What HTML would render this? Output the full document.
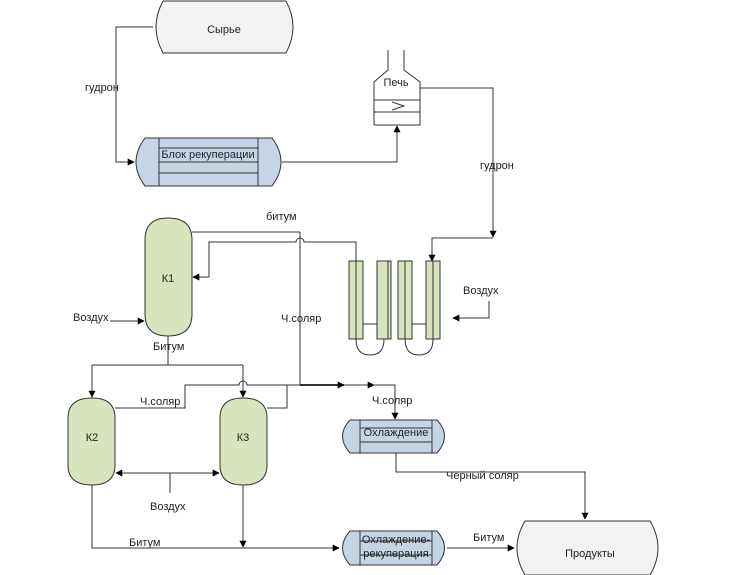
<!DOCTYPE html>
<html><head><meta charset="utf-8"><style>body{margin:0;background:#fff}svg{display:block}text{font-family:"Liberation Sans",sans-serif;font-size:11px;fill:#222}</style></head><body>
<svg width="730" height="575" viewBox="0 0 730 575">
<defs><marker id="a" viewBox="0 0 10 10" refX="9" refY="5" markerWidth="7" markerHeight="7" markerUnits="userSpaceOnUse" orient="auto"><path d="M0,0L10,5L0,10z" fill="#000"/></marker></defs>
<g fill="none" stroke="#333" stroke-width="1">
<path d="M163,1 H286 Q300,27 286,53 H163 Q149,27 163,1Z" fill="#f2f2f2"/>
<path d="M145,138 H272 Q290,162 272,186 H145 Q127,162 145,138Z" fill="#c6d5e6"/>
<path d="M159,138V186M258,138V186M159,148H258M159,162H258M159,173H258"/>
<path d="M388,50V70L374,82V125H420V82L404,70V50"/>
<path d="M374,100H420M374,112H420M392,102L404,106L392,110"/>
<path d="M153,27H116V162H134" marker-end="url(#a)"/>
<path d="M282,162H397V126" marker-end="url(#a)"/>
<path d="M420,88H493V237" marker-end="url(#a)"/>
<path d="M493,238H432V261" marker-end="url(#a)"/>
<g fill="#d7e4bd"><rect x="349" y="261" width="14" height="78"/><rect x="377" y="261" width="14" height="78"/><rect x="398" y="261" width="14" height="78"/><rect x="426" y="261" width="14" height="78"/></g>
<path d="M356,261V339M388,261V339M405,261V339M433,261V339"/>
<path d="M363,324H377M412,324H426"/>
<path d="M356,339Q356,355 370,355Q384,355 384,339M405,339Q405,355 419,355Q433,355 433,339"/>
<path d="M489,301V318H453" marker-end="url(#a)"/>
<path d="M145,240Q145,218 168,218Q192,218 192,240V314Q192,336 168,336Q145,336 145,314Z" fill="#d7e4bd"/>
<path d="M192,232H300"/>
<path d="M356,261V242H304A4,4 0 0 0 296,242H209V277H193" marker-end="url(#a)"/>
<path d="M300,232V385"/>
<path d="M110,321H144" marker-end="url(#a)"/>
<path d="M168,336V365M92,365H243"/>
<path d="M92,365V397" marker-end="url(#a)"/>
<path d="M243,365V397" marker-end="url(#a)"/>
<path d="M68,418Q68,398 92,398Q115,398 115,418V465Q115,485 92,485Q68,485 68,465Z" fill="#d7e4bd"/>
<path d="M220,418Q220,398 243,398Q267,398 267,418V465Q267,485 243,485Q220,485 220,465Z" fill="#d7e4bd"/>
<path d="M115,408H185V385H239A4,4 0 0 1 247,385H300"/>
<path d="M267,408H287V385"/>
<path d="M300,385H344" stroke-width="2" marker-end="url(#a)"/>
<path d="M343,385H374" marker-end="url(#a)"/>
<path d="M373,385H395V419" marker-end="url(#a)"/>
<path d="M170,473H116" marker-end="url(#a)"/>
<path d="M170,473H219" marker-end="url(#a)"/>
<path d="M170,473V493"/>
<path d="M92,485V548H339" marker-end="url(#a)"/>
<path d="M243,485V547" marker-end="url(#a)"/>
<path d="M350,420H437Q452,436 437,453H350Q335,436 350,420Z" fill="#c6d5e6"/>
<path d="M360,420V453M432,420V453M360,428H432M360,442H432"/>
<path d="M396,453V472H585V519" marker-end="url(#a)"/>
<path d="M350,531H437Q452,548 437,565H350Q335,548 350,531Z" fill="#c6d5e6"/>
<path d="M360,531V565M432,531V565M360,541H432M360,555H432"/>
<path d="M447,548H514" marker-end="url(#a)"/>
<path d="M525,521H650Q666,548 650,575H525Q509,548 525,521Z" fill="#f2f2f2"/>
</g>
<g>
<text x="224" y="33" text-anchor="middle" font-size="13">Сырье</text>
<text x="85" y="91">гудрон</text>
<text x="208" y="158" text-anchor="middle">Блок рекуперации</text>
<text x="396" y="86" text-anchor="middle">Печь</text>
<text x="480" y="169">гудрон</text>
<text x="266" y="220">битум</text>
<text x="168" y="282" text-anchor="middle">К1</text>
<text x="73" y="321">Воздух</text>
<text x="153" y="350">Битум</text>
<text x="281" y="322">Ч.соляр</text>
<text x="463" y="294">Воздух</text>
<text x="140" y="405">Ч.соляр</text>
<text x="92" y="441" text-anchor="middle">К2</text>
<text x="243" y="441" text-anchor="middle">К3</text>
<text x="372" y="404">Ч.соляр</text>
<text x="396" y="436" text-anchor="middle">Охлаждение</text>
<text x="446" y="479">Черный соляр</text>
<text x="150" y="510">Воздух</text>
<text x="129" y="546">Битум</text>
<text x="396" y="543" text-anchor="middle">Охлаждение-</text>
<text x="396" y="557" text-anchor="middle">рекуперация</text>
<text x="473" y="541">Битум</text>
<text x="590" y="557" text-anchor="middle" font-size="13">Продукты</text>
</g>
</svg>
</body></html>
